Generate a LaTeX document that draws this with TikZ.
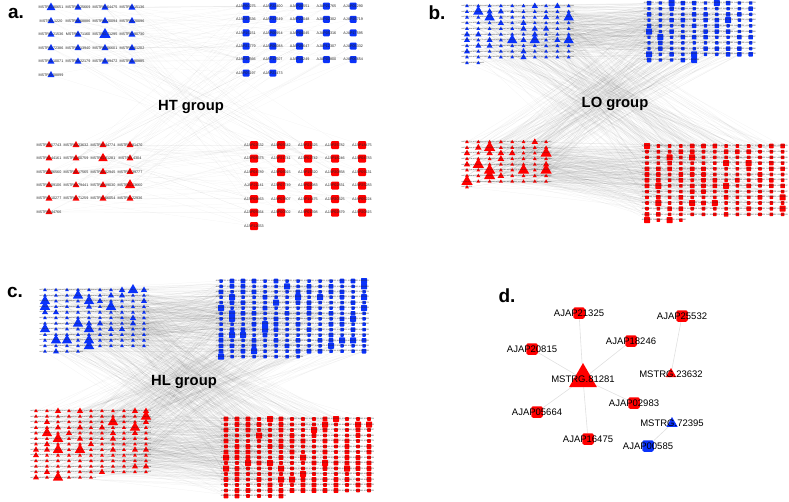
\documentclass[tikz,border=0pt]{standalone}
\usepackage{fontspec}
\setmainfont{Liberation Sans}
\usetikzlibrary{shapes.geometric}
\pgfdeclarelayer{bg}
\pgfsetlayers{bg,main}
\definecolor{bl}{RGB}{10,50,250}
\definecolor{rd}{RGB}{255,0,0}
\tikzset{
  tri/.style={regular polygon, regular polygon sides=3, inner sep=0pt, draw=none},
  sqr/.style={rectangle, rounded corners=0.6pt, inner sep=0pt, draw=none},
  lblT/.style={font=\fontsize{1.6}{1.6}\selectfont, text=black!85, inner sep=0pt},
  lblS/.style={font=\fontsize{1.9}{1.9}\selectfont, text=black!85, inner sep=0pt},
  lblA/.style={font=\fontsize{3.7}{4}\selectfont, text=black!85, inner sep=0pt},
  lblD/.style={font=\fontsize{9.5}{10}\selectfont, text=black, inner sep=0pt},
  bTri/.style={tri, fill=bl, label={[lblT]center:MSTRG.\num}},
  rTri/.style={tri, fill=rd, label={[lblT]center:MSTRG.\num}},
  bSq/.style={sqr, fill=bl, label={[lblS]center:AJAP\num}},
  rSq/.style={sqr, fill=rd, label={[lblS]center:AJAP\num}},
  edge/.style={draw=black, opacity=0.05, line width=0.25pt},
  edgeA/.style={draw=black, opacity=0.045, line width=0.25pt},
  edgeD/.style={draw=black!12, line width=0.6pt},
  plabel/.style={font=\bfseries\fontsize{19}{19}\selectfont},
  glabel/.style={font=\bfseries\fontsize{14.8}{15}\selectfont},
}
\newcommand\mkclu[9]{%
  \foreach \k in {1,...,#7}{%
    \pgfmathtruncatemacro\cc{mod(\k-1,#6)}%
    \pgfmathtruncatemacro\rr{div(\k-1,#6)}%
    \pgfmathrandominteger{\num}{10000}{89999}%
    \pgfmathsetmacro\ss{#9}%
    \node[#8, minimum size=\ss] (#1\k) at ({#2+\cc*#4},{#3+\rr*#5}) {};
  }}
\newcommand\mkedges[6]{%
  \foreach \e in {1,...,#1}{%
    \pgfmathrandominteger{\ia}{1}{#3}%
    \pgfmathrandominteger{\ib}{1}{#5}%
    \draw[#6] (#2\ia) -- (#4\ib);
  }}
\pgfmathsetseed{4242}
\begin{document}
\begin{tikzpicture}[x=1pt,y=-1pt]
\useasboundingbox (0,0) rectangle (789,501);

% ---------------- panel a ----------------
\node[plabel] (la) at (16,13) {a.};
\node[glabel] (ga) at (191,107) {HT group};
\foreach \t/\s [count=\k] in {80651/10,25669/8,64475/8,15136/8,1220/8,68886/8,20094/8,20096/8,
  21536/8,71160/8,71295/13,90730/8,72386/8,13940/8,06601/8,61202/8,10071/8,22179/8,89472/8,80885/8,08899/8}{
  \pgfmathtruncatemacro\cc{mod(\k-1,4)}\pgfmathtruncatemacro\rr{div(\k-1,4)}
  \node[tri, fill=bl, minimum size=\s, label={[lblA]center:MSTRG.\t}] (aT\k) at ({51+\cc*27},{7.5+\rr*13.5}) {};
}
\foreach \t [count=\k] in {00275,22400,20551,21765,01290,23536,21549,22048,02302,26719,16151,06954,04045,05316,17595,
  21779,06088,25647,12307,05332,16566,11507,18249,03800,06654,05197,21473}{
  \pgfmathtruncatemacro\cc{mod(\k-1,5)}\pgfmathtruncatemacro\rr{div(\k-1,5)}
  \node[sqr, rounded corners=1pt, fill=bl, minimum size=7, label={[lblA]center:AJAP\t}] (aS\k) at ({246+\cc*26.8},{6+\rr*13.4}) {};
}
\foreach \t/\s [count=\k] in {57743/8,23632/8,44774/8,81470/8,44161/8,60759/8,81281/11,4304/8,06560/8,17565/8,02945/8,39777/8,
  09106/8,79441/8,89030/8,23660/12,10277/8,71259/8,66054/8,22936/8,44766/8}{
  \pgfmathtruncatemacro\cc{mod(\k-1,4)}\pgfmathtruncatemacro\rr{div(\k-1,4)}
  \node[tri, fill=rd, minimum size=\s, label={[lblA]center:MSTRG.\t}] (arT\k) at ({49+\cc*27},{145+\rr*13.4}) {};
}
\foreach \t [count=\k] in {02532,05542,21325,25782,18475,08373,21741,02742,18246,04783,04789,06915,15320,20858,09131,
  21141,07749,02983,02831,25283,08463,03807,16475,20325,05224,05664,00302,01398,02879,20815,12653}{
  \pgfmathtruncatemacro\cc{mod(\k-1,5)}\pgfmathtruncatemacro\rr{div(\k-1,5)}
  \node[sqr, rounded corners=1pt, fill=rd, minimum size=8, label={[lblA]center:AJAP\t}] (arS\k) at ({254+\cc*27},{145+\rr*13.5}) {};
}
\begin{pgfonlayer}{bg}
\mkedges{45}{aT}{21}{aS}{27}{edgeA}
\mkedges{35}{aT}{21}{arS}{31}{edgeA}
\mkedges{35}{arT}{21}{aS}{27}{edgeA}
\mkedges{45}{arT}{21}{arS}{31}{edgeA}
\end{pgfonlayer}

% ---------------- panel b ----------------
\node[plabel] (lb) at (437,13) {b.};
\node[glabel] (gb) at (615,104) {LO group};
\mkclu{bT}{467}{6}{11.3}{5.7}{10}{102}{bTri}{rnd<0.07 ? 12 : (rnd<0.2 ? 7 : 4.5)}
\mkclu{bS}{649}{3}{11.3}{5.7}{10}{105}{bSq}{rnd<0.08 ? 6 : (rnd<0.3 ? 4.5 : 3.4)}
\mkclu{rT}{467}{142}{11.3}{5.65}{8}{65}{rTri}{rnd<0.08 ? 13 : (rnd<0.22 ? 7.5 : 4.5)}
\mkclu{rS}{647}{146}{11.3}{5.7}{13}{173}{rSq}{rnd<0.08 ? 6 : (rnd<0.35 ? 4.6 : 3.6)}
\begin{pgfonlayer}{bg}
\mkedges{260}{bT}{102}{bS}{105}{edge}
\mkedges{200}{bT}{102}{rS}{173}{edge}
\mkedges{160}{rT}{65}{bS}{105}{edge}
\mkedges{260}{rT}{65}{rS}{173}{edge}
\end{pgfonlayer}

% ---------------- panel c ----------------
\node[plabel] (lc) at (15,292) {c.};
\node[glabel] (gc) at (184,382) {HL group};
\mkclu{cT}{45}{290}{11}{5.6}{10}{114}{bTri}{rnd<0.08 ? 12 : (rnd<0.22 ? 7 : 4.5)}
\mkclu{cS}{221}{281}{11}{5.4}{14}{204}{bSq}{rnd<0.08 ? 6 : (rnd<0.35 ? 4.6 : 3.5)}
\mkclu{cRT}{36}{411}{11}{5.55}{11}{138}{rTri}{rnd<0.08 ? 12 : (rnd<0.22 ? 7 : 4.5)}
\mkclu{cRS}{226}{419}{11}{5.5}{14}{202}{rSq}{rnd<0.1 ? 6 : (rnd<0.4 ? 4.7 : 3.7)}
\begin{pgfonlayer}{bg}
\mkedges{300}{cT}{114}{cS}{204}{edge}
\mkedges{230}{cT}{114}{cRS}{202}{edge}
\mkedges{230}{cRT}{138}{cS}{204}{edge}
\mkedges{300}{cRT}{138}{cRS}{202}{edge}
\end{pgfonlayer}

% ---------------- panel d ----------------
\node[plabel] (ld) at (507,296) {d.};
\tikzset{dsq/.style={sqr, rounded corners=2pt, minimum size=11.5}}
\node[dsq, fill=rd, label={[lblD]center:AJAP21325}] (d1) at (579,313) {};
\node[dsq, fill=rd, label={[lblD]center:AJAP25532}] (d2) at (682,316) {};
\node[dsq, fill=rd, label={[lblD]center:AJAP18246}] (d3) at (631,341) {};
\node[dsq, fill=rd, label={[lblD]center:AJAP20815}] (d4) at (532,349) {};
\node[tri, fill=rd, minimum size=32, label={[lblD]center:MSTRG.81281}] (d5) at (583,379) {};
\node[tri, fill=rd, minimum size=12, label={[lblD]center:MSTRG.23632}] (d6) at (671,374) {};
\node[dsq, fill=rd, label={[lblD]center:AJAP02983}] (d7) at (634,403) {};
\node[dsq, fill=rd, label={[lblD]center:AJAP05664}] (d8) at (537,412) {};
\node[tri, fill=bl, minimum size=13, label={[lblD]center:MSTRG.72395}] (d9) at (672,423.5) {};
\node[dsq, fill=rd, label={[lblD]center:AJAP16475}] (d10) at (588,439) {};
\node[dsq, fill=bl, label={[lblD]center:AJAP00585}] (d11) at (648,446) {};
\begin{pgfonlayer}{bg}
\foreach \b in {d1,d3,d4,d7,d8,d10}{\draw[edgeD] (d5) -- (\b);}
\draw[edgeD] (d6) -- (d2);
\draw[edgeD] (d9) -- (d11);
\end{pgfonlayer}
\end{tikzpicture}
\end{document}
